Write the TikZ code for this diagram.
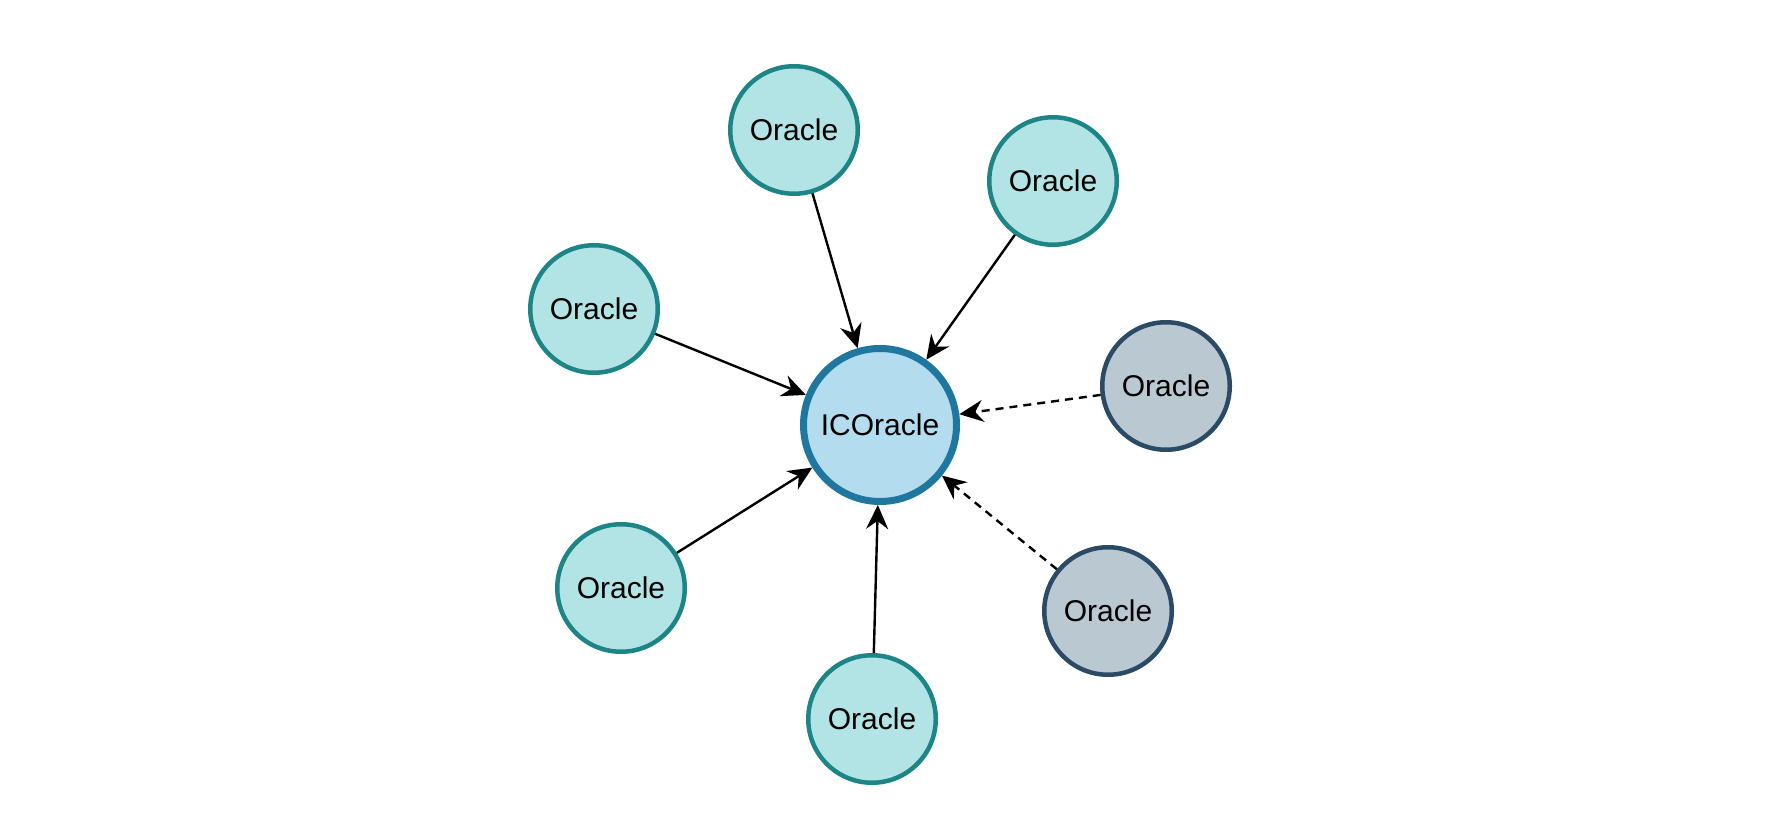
\documentclass[tikz,border=0pt]{standalone}
\usepackage{fontspec}
\setmainfont{Liberation Sans}
\usetikzlibrary{arrows.meta}
\definecolor{oraclefill}{HTML}{B2E4E5}
\definecolor{oracleline}{HTML}{1E8587}
\definecolor{icfill}{HTML}{B3DDEF}
\definecolor{icline}{HTML}{1F77A0}
\definecolor{grayfill}{HTML}{BAC8D2}
\definecolor{grayline}{HTML}{2B4A66}
\begin{document}
\begin{tikzpicture}[x=0.5pt,y=0.5pt,
    oracle/.style={circle, draw=oracleline, fill=oraclefill, line width=2.25pt,
        minimum size=63.75pt, inner sep=0pt, font=\fontsize{15pt}{18pt}\selectfont},
    offline/.style={oracle, draw=grayline, fill=grayfill},
    icoracle/.style={oracle, draw=icline, fill=icfill, line width=3.5pt, minimum size=76.5pt},
    feed/.style={line width=1.2pt, -{Stealth[length=12pt,width=11pt,inset=4pt]}},
    feeddashed/.style={feed, dash pattern=on 4pt off 3pt}]
    \useasboundingbox (0,0) rectangle (1770,836);

    \node[icoracle] (ic) at (880,411) {ICOracle};

    \node[oracle] (top) at (794,706) {Oracle};
    \node[oracle] (topright) at (1053,655) {Oracle};
    \node[oracle] (left) at (594,527) {Oracle};
    \node[oracle] (botleft) at (621,248) {Oracle};
    \node[oracle] (bottom) at (872,117) {Oracle};
    \node[offline] (right) at (1166,450) {Oracle};
    \node[offline] (botright) at (1108,225) {Oracle};

    \foreach \src in {top,topright,left,botleft,bottom}
        \draw[feed] (\src) -- (ic);
    \foreach \src in {right,botright}
        \draw[feeddashed] (\src) -- (ic);
\end{tikzpicture}
\end{document}
